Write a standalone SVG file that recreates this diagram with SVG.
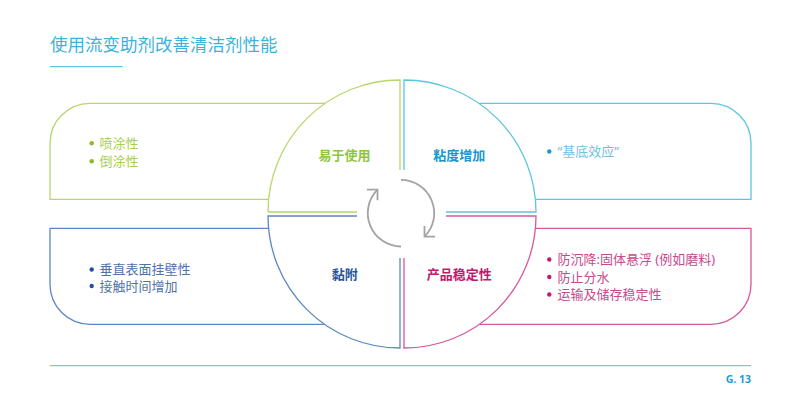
<svg xmlns="http://www.w3.org/2000/svg" width="800" height="418" viewBox="0 0 800 418">
<style>
text{font-family:"Noto Sans","Noto Sans CJK SC",sans-serif;}
.title{font-size:17.5px;fill:#3db2db;}
.bt{font-size:13px;}
.lbl{font-size:13px;font-weight:bold;text-anchor:middle;}
.box{fill:none;stroke-width:1.3;}
.qf{fill:#fff;stroke:none;}
.qs{fill:none;stroke-width:1.3;}
.g .box,.g .qs{stroke:#b7d66e;} .g .bt{fill:#a6cf52;} .g .lbl{fill:#8cc63f;} .g circle{fill:#86bc25;}
.c .box,.c .qs{stroke:#5ec4e0;} .c .bt{fill:#6fc3df;} .c .lbl{fill:#1b96cf;} .c circle{fill:#1b96cf;}
.b .box,.b .qs{stroke:#5b87c4;} .b .bt{fill:#4f72a8;} .b .lbl{fill:#2b559c;} .b circle{fill:#23509c;}
.m .box,.m .qs{stroke:#d8579d;} .m .bt{fill:#c74a8c;} .m .lbl{fill:#c2186d;} .m circle{fill:#c2186d;}
.cyc{fill:none;stroke:#a3a3a3;stroke-width:1.8;marker-end:url(#chev);}
</style>
<defs>
<marker id="chev" markerUnits="userSpaceOnUse" markerWidth="24" markerHeight="24" refX="0" refY="0" orient="auto" overflow="visible">
<path d="M -7.5 -7.5 L 0 0 L -7.5 7.5" fill="none" stroke="#a3a3a3" stroke-width="1.8"/>
</marker>
</defs>
<rect x="0" y="0" width="800" height="418" fill="#fff"/>
<g id="header">
<text class="title" x="50" y="50.5">使用流变助剂改善清洁剂性能</text>
<line x1="50" y1="66.7" x2="122.7" y2="66.7" stroke="#5ec4e0" stroke-width="1.3"/>
</g>
<g id="node-ease" class="g">
<path class="box" d="M 325.6 103.3 H 90 A 40 40 0 0 0 50 143.3 V 199.3 H 268.6"/>
<path class="qf" d="M 400 212 L 268 212 A 132 132 0 0 1 400 80 Z"/>
<path class="qs" d="M 268 212 A 132 132 0 0 1 400 80 V 170 M 268 212 H 357"/>
<circle cx="91.7" cy="143.2" r="2.2"/>
<circle cx="91.7" cy="161.2" r="2.2"/>
<text class="bt" x="99.5" y="147.5">喷涂性</text>
<text class="bt" x="99.5" y="165.5">倒涂性</text>
<text class="lbl" x="344.5" y="160">易于使用</text>
</g>
<g id="node-viscosity" class="c">
<path class="box" d="M 478.4 103.3 H 711 A 40 40 0 0 1 751 143.3 V 199.3 H 535.4"/>
<path class="qf" d="M 404 212 L 404 80 A 132 132 0 0 1 536 212 Z"/>
<path class="qs" d="M 404 170 V 80 A 132 132 0 0 1 536 212 H 446"/>
<circle cx="549.3" cy="151.5" r="2.2"/>
<text class="bt" x="557.5" y="156">“基底效应”</text>
<text class="lbl" x="459.3" y="160">粘度增加</text>
</g>
<g id="node-adhesion" class="b">
<path class="box" d="M 268.6 228.3 H 50 V 284.3 A 40 40 0 0 0 90 324.3 H 324.5"/>
<path class="qf" d="M 400 216 L 268 216 A 132 132 0 0 0 400 348 Z"/>
<path class="qs" d="M 357 216 H 268 A 132 132 0 0 0 400 348 V 258"/>
<circle cx="91.7" cy="269.5" r="2.2"/>
<circle cx="91.7" cy="286" r="2.2"/>
<text class="bt" x="99.5" y="274">垂直表面挂壁性</text>
<text class="bt" x="99.5" y="290.5">接触时间增加</text>
<text class="lbl" x="344.7" y="279">黏附</text>
</g>
<g id="node-stability" class="m">
<path class="box" d="M 535.4 228.3 H 751 V 284.3 A 40 40 0 0 1 711 324.3 H 479.5"/>
<path class="qf" d="M 404 216 L 536 216 A 132 132 0 0 1 404 348 Z"/>
<path class="qs" d="M 446 216 H 536 A 132 132 0 0 1 404 348 V 258"/>
<circle cx="549.3" cy="259.5" r="2.2"/>
<circle cx="549.3" cy="277" r="2.2"/>
<circle cx="549.3" cy="294.5" r="2.2"/>
<text class="bt" x="557.5" y="264">防沉降:固体悬浮 (例如磨料)</text>
<text class="bt" x="557.5" y="281.5">防止分水</text>
<text class="bt" x="557.5" y="299">运输及储存稳定性</text>
<text class="lbl" x="459.2" y="279">产品稳定性</text>
</g>
<g id="connectors">
<path class="cyc" d="M 401 246.5 A 33.3 33.3 0 0 1 377.5 189.7"/>
<path class="cyc" d="M 401 179.9 A 33.3 33.3 0 0 1 424.5 236.7"/>
</g>
<g id="footer">
<line x1="50" y1="365.7" x2="751" y2="365.7" stroke="#6ccbe8" stroke-width="1.3"/>
<text x="751" y="383.3" font-size="10.5" font-weight="bold" fill="#1b9bd7" text-anchor="end">G. 13</text>
</g>
</svg>
